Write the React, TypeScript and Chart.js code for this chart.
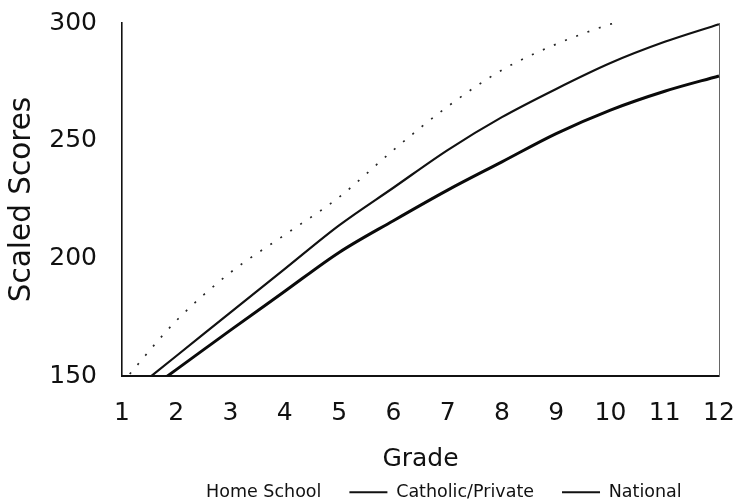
import { useEffect, useRef } from "react";
import { Chart, registerables } from "chart.js";

Chart.register(...registerables);

// ---- Data ----
const grades = ["1", "2", "3", "4", "5", "6", "7", "8", "9", "10", "11", "12"];
const homeSchool = [147, 173.5, 194, 210, 226, 246, 264.5, 280, 291, 299.5, 306, 311];
const catholicPrivate = [140, 158.5, 177, 195.5, 214, 230, 246, 260, 272, 283, 292, 299.5];
const national = [136, 152.7, 169.5, 186, 202.5, 216, 229, 241, 253, 263, 271, 277.5];
const yTickValues = [150, 200, 250, 300];
const seriesNames = ["Home School", "Catholic/Private", "National"];
const xTitle = "Grade";
const yTitle = "Scaled Scores";

const FONT = "'DejaVu Sans', 'Liberation Sans', Arial, sans-serif";

const legendToPlotArea = {
  id: "legendToPlotArea",
  beforeDraw(chart: any) {
    const lg = chart.legend;
    if (!lg) return;
    lg.left = chart.chartArea.left;
    lg.right = chart.chartArea.right;
  },
};

export default function App() {
  const canvasRef = useRef<HTMLCanvasElement | null>(null);

  useEffect(() => {
    document.body.style.margin = "0";
    const canvas = canvasRef.current;
    if (!canvas) return;

    const chart = new Chart(canvas, {
      type: "line",
      data: {
        labels: grades,
        datasets: [
          {
            label: seriesNames[0],
            data: homeSchool,
            borderColor: "#262626",
            borderWidth: 1.7,
            borderDash: [2, 10],
            pointRadius: 0,
            fill: false,
            cubicInterpolationMode: "monotone",
          },
          {
            label: seriesNames[1],
            data: catholicPrivate,
            borderColor: "#111111",
            borderWidth: 2.2,
            pointRadius: 0,
            fill: false,
            cubicInterpolationMode: "monotone",
          },
          {
            label: seriesNames[2],
            data: national,
            borderColor: "#0a0a0a",
            borderWidth: 3,
            pointRadius: 0,
            fill: false,
            cubicInterpolationMode: "monotone",
          },
        ],
      },
      options: {
        responsive: false,
        animation: false,
        devicePixelRatio: 1,
        color: "#111",
        font: { family: FONT },
        layout: { padding: { top: 23, right: 15, bottom: -10, left: 0 } },
        plugins: {
          tooltip: { enabled: false },
          title: { display: false },
          legend: {
            display: true,
            position: "bottom",
            align: "center",
            labels: {
              color: "#111",
              font: { family: FONT, size: 17.5 },
              boxWidth: 38,
              boxHeight: 2,
              padding: 28,
              generateLabels: (c: any) =>
                c.data.datasets.map((ds: any, i: number) => ({
                  text: ds.label,
                  fillStyle: i === 0 ? "rgba(0,0,0,0)" : "#111",
                  strokeStyle: "rgba(0,0,0,0)",
                  lineWidth: 0,
                  hidden: false,
                  datasetIndex: i,
                  fontColor: "#111",
                })),
            },
          },
        },
        scales: {
          x: {
            type: "category",
            offset: false,
            grid: { display: false, drawTicks: false },
            border: { display: true, color: "#111", width: 2 },
            ticks: {
              color: "#111",
              font: { family: FONT, size: 25 },
              padding: 22,
              maxRotation: 0,
              autoSkip: false,
            },
            title: {
              display: true,
              text: xTitle,
              color: "#111",
              font: { family: FONT, size: 25, lineHeight: 1 },
              padding: { top: 0, bottom: -16 },
            },
            afterFit: (s: any) => {
              s.height = 79.5;
              s.paddingRight = 16;
            },
          },
          y: {
            type: "linear",
            min: 150,
            max: 300,
            grid: { display: false, drawTicks: false },
            border: { display: true, color: "#111", width: 1.6 },
            afterBuildTicks: (axis: any) => {
              axis.ticks = yTickValues.map((v) => ({ value: v }));
            },
            ticks: {
              color: "#111",
              font: { family: FONT, size: 25 },
              padding: 25,
            },
            title: {
              display: true,
              text: yTitle,
              color: "#111",
              font: { family: FONT, size: 29.5, lineHeight: 1 },
              padding: { top: 8, bottom: 0 },
            },
            afterFit: (s: any) => {
              s.width = 122;
              s.paddingTop = 15;
              s.paddingBottom = 15;
            },
          },
          yRight: {
            type: "linear",
            position: "right",
            min: 150,
            max: 300,
            grid: { display: false, drawTicks: false },
            ticks: { display: false },
            border: { display: true, color: "#666", width: 1, dash: [1, 28] },
            afterFit: (s: any) => {
              s.width = 0;
            },
          },
        },
      },
      plugins: [legendToPlotArea],
    } as any);

    return () => chart.destroy();
  }, []);

  return (
    <div style={{ width: 735, height: 501 }}>
      <canvas ref={canvasRef} width={735} height={501} style={{ display: "block" }} />
    </div>
  );
}
